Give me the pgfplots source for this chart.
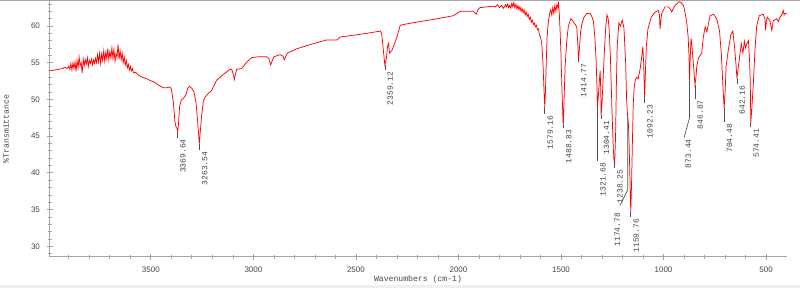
\documentclass[border=0pt]{standalone}
\usepackage{fontspec}
\setmainfont{Liberation Sans}
\setmonofont{Liberation Mono}
\usepackage{pgfplots}
\pgfplotsset{compat=1.18}
\definecolor{axgray}{RGB}{165,165,165}
\definecolor{txtgray}{RGB}{70,70,70}
\definecolor{leadgray}{RGB}{80,80,80}
\newcommand{\pklab}[4]{%
  \draw[leadgray, line width=0.5pt] (axis cs:#1,#2) -- (axis cs:#1,#3);
  \node[rotate=90, anchor=east, inner sep=0pt, font=\ttfamily\fontsize{6}{6}\selectfont, text=txtgray] at ([xshift=4pt,yshift=-1pt]axis cs:#1,#3) {#4};}
\begin{document}
\begin{tikzpicture}
\path[use as bounding box] (-37.5pt,-23.25pt) rectangle (562.5pt,192.75pt);
\fill[gray!12] (-37.5pt,-23.25pt) rectangle (562.5pt,-21pt);
\draw[axgray, line width=0.75pt] (-37.5pt,192.4pt) -- (562.5pt,192.4pt);
\begin{axis}[
  at={(0pt,0pt)}, anchor=south west,
  scale only axis, width=552.75pt, height=192pt,
  x dir=reverse,
  xmin=398, xmax=3992, ymin=28.55, ymax=63.4,
  axis x line*=bottom, axis y line*=left,
  axis line style={axgray, line width=0.75pt, -},
  every outer x axis line/.append style={-},
  every outer y axis line/.append style={-},
  xtick={500,1000,...,3500}, minor xtick={500,600,...,3900},
  ytick={30,35,...,60}, minor ytick={29,30,...,63},
  tick align=center,
  major tick length=4pt, minor tick length=2.5pt,
  every tick/.style={axgray, line width=0.6pt},
  /pgf/number format/1000 sep={},
  /pgf/number format/assume math mode=true,
  xticklabel style={font=\fontsize{6}{7}\selectfont, text=txtgray, yshift=-2pt},
  yticklabel style={font=\fontsize{6}{7}\selectfont, text=txtgray, xshift=-2pt},
  xlabel={Wavenumbers (cm-1)},
  ylabel={\%Transmittance},
  xlabel style={at={(axis description cs:0.4993,-0.086)}, anchor=center, font=\ttfamily\fontsize{6.1}{7}\selectfont, text=txtgray},
  ylabel style={at={(axis description cs:-0.0597,0.5)}, anchor=center, font=\ttfamily\fontsize{6.1}{7}\selectfont, text=txtgray},
  clip=false,
]
\addplot[red, line width=0.55pt] table {
w T
3990 53.9
3970 54.0
3950 54.1
3930 54.2
3920 54.4
3910 54.2
3900 54.5
3895 54.1
3890 54.9
3885 54.0
3880 55.0
3875 54.2
3870 55.1
3865 53.8
3860 55.3
3855 54.3
3850 55.8
3845 54.6
3840 55.0
3835 53.6
3830 55.5
3825 54.6
3820 55.4
3815 54.8
3810 55.7
3805 54.5
3800 55.3
3795 54.9
3790 55.5
3785 54.7
3780 55.4
3775 54.9
3770 55.6
3765 55.0
3760 56.1
3755 55.1
3750 56.3
3745 54.9
3740 56.2
3735 55.3
3730 56.6
3725 55.2
3720 56.4
3715 55.5
3710 56.9
3705 55.4
3700 56.5
3695 55.7
3690 57.0
3685 55.6
3680 56.8
3675 55.2
3670 56.2
3665 55.8
3660 57.5
3655 55.5
3650 56.6
3645 55.4
3640 56.3
3635 55.0
3630 55.8
3625 54.7
3620 55.3
3615 54.3
3610 54.8
3605 54.0
3600 54.5
3595 53.9
3590 54.2
3585 53.6
3575 53.7
3560 53.3
3540 53.0
3520 52.8
3505 52.6
3480 52.3
3460 51.9
3440 51.6
3420 51.6
3407 51.7
3400 51.4
3390 49.5
3383 47.0
3378 46.3
3372 46.0
3369.6 45.6
3366 46.5
3360 49.0
3352 49.9
3340 50.2
3330 50.6
3320 51.5
3313 51.8
3300 51.5
3290 51.0
3280 49.6
3272 47.0
3266 44.8
3263.5 44.0
3258 46.0
3252 47.9
3244 49.8
3236 50.3
3220 50.8
3204 51.2
3180 52.6
3147 53.4
3114 54.1
3106 54.1
3097 53.3
3093 52.7
3088 53.4
3082 54.1
3057 54.2
3032 55.1
3008 55.7
2976 55.8
2935 55.8
2925 55.6
2916 54.7
2908 55.3
2900 55.8
2870 56.1
2856 55.9
2849 55.4
2842 55.9
2834 56.3
2788 56.9
2707 57.6
2642 58.1
2593 58.1
2577 58.5
2496 58.8
2447 59.0
2382 59.3
2375 59.0
2370 57.8
2366 56.6
2359 54.7
2352 55.5
2346 57.2
2341 57.6
2336 56.3
2324 56.7
2300 58.5
2284 60.1
2250 60.3
2187 60.6
2100 61.0
2024 61.4
1991 62.0
1927 62.0
1914 61.6
1905 62.2
1895 62.5
1830 62.7
1820 62.6
1810 62.9
1800 62.5
1790 62.8
1780 62.4
1770 62.9
1765 62.6
1760 63.0
1755 62.5
1750 62.8
1745 62.4
1740 63.1
1735 62.6
1730 63.2
1725 62.5
1720 62.9
1715 62.3
1710 62.8
1705 62.2
1700 62.6
1695 62.0
1690 62.4
1685 61.8
1680 62.2
1675 61.5
1670 61.9
1665 61.3
1660 61.6
1655 60.9
1650 61.2
1645 60.5
1640 60.8
1635 60.2
1630 60.4
1625 59.9
1620 60.1
1615 59.5
1610 59.6
1605 58.8
1600 58.5
1594 57.6
1588 55.0
1584 52.0
1581 50.0
1579.2 49.0
1576 51.0
1572 55.0
1568 58.5
1562 60.5
1556 61.6
1550 62.2
1545 61.5
1540 62.5
1535 61.7
1530 62.8
1525 62.0
1520 62.9
1515 62.5
1513 63.3
1508 61.5
1504 59.0
1500 56.0
1495 51.0
1490 47.0
1488.8 46.5
1485 50.0
1480 54.5
1472 58.0
1464 60.0
1452 61.0
1445 60.8
1439 60.5
1430 60.2
1423 59.8
1418 57.5
1414.8 55.4
1410 57.0
1405 59.0
1399 60.2
1388 61.2
1374 61.7
1358 61.7
1350 61.3
1342 60.6
1335 58.5
1329 55.5
1325 52.0
1321.7 49.0
1318 50.5
1313 52.5
1309 53.9
1306 51.0
1304.4 47.9
1300 49.5
1295 52.6
1289 56.3
1282 59.8
1276 61.5
1270 61.0
1265 59.5
1259 55.6
1252 49.0
1246 44.0
1242 41.8
1238.3 41.3
1234 45.0
1230 52.0
1226 57.2
1218 60.4
1210 60.0
1205 60.5
1201 60.8
1193 59.7
1185 55.1
1180 50.0
1176 48.0
1174.8 47.6
1171 46.5
1167 43.0
1163 38.0
1159.8 34.7
1156 38.5
1152 44.0
1148 49.0
1144 51.5
1138 52.6
1131 53.0
1124 52.8
1115 54.0
1106 55.9
1101 57.2
1097 55.0
1094 52.0
1092.2 50.5
1088 54.0
1084 57.2
1076 59.6
1060 61.2
1041 61.9
1025 62.1
1020 61.5
1017 59.6
1013 60.8
1009 61.7
993 62.6
976 62.6
965 62.2
960 61.9
952 62.4
944 62.8
932 63.1
922 63.3
912 63.1
903 62.8
895 61.8
887 60.5
880 58.5
876 56.0
873.4 52.6
870 55.5
866 58.3
862 57.5
858 56.0
852 54.0
846.9 52.0
842 53.0
838 54.5
830 55.6
822 56.0
814 56.3
806 58.5
797 59.9
789 59.2
781 60.3
773 61.4
756 61.6
740 60.9
727 59.3
718 56.1
710 51.5
704.5 48.8
699 51.5
695 54.5
684 56.8
672 58.8
662 59.3
654 57.2
646 54.5
642.2 52.9
635 54.5
629 55.8
621 57.6
613 56.3
606 57.9
600 57.0
594 57.6
586 58.0
580 55.0
577 52.2
574.4 46.8
569 49.0
562 52.2
554 56.8
546 60.0
533 61.4
514 61.6
506 61.0
502 59.4
498 60.8
494 61.2
481 60.7
472 59.4
465 60.7
448 61.0
440 60.6
432 61.2
424 61.5
416 62.1
412 61.5
408 61.7
400 61.7
};
\pklab{3369.64}{45.56}{44.8}{3369.64}
\pklab{3263.54}{44.0}{43.1}{3263.54}
\pklab{2359.12}{54.69}{54.0}{2359.12}
\pklab{1579.16}{48.96}{48.0}{1579.16}
\pklab{1488.83}{46.5}{46.1}{1488.83}
\pklab{1414.77}{55.4}{55.1}{1414.77}
\pklab{1321.68}{48.96}{41.6}{1321.68}
\pklab{1304.41}{47.9}{47.3}{1304.41}
\pklab{1238.25}{41.3}{40.65}{1238.25}
\pklab{1159.76}{34.66}{33.95}{1159.76}
\pklab{1092.23}{50.5}{49.5}{1092.23}
\pklab{846.87}{52.0}{50.1}{846.87}
\pklab{704.48}{48.8}{46.9}{704.48}
\pklab{642.16}{52.9}{52.1}{642.16}
\pklab{574.41}{46.8}{46.2}{574.41}
% 1174.78 with bent leader
\draw[leadgray, line width=0.5pt] (axis cs:1174.78,47.6) -- (axis cs:1174.78,37.66) -- (axis cs:1212,35.6);
\node[rotate=90, anchor=east, inner sep=0pt, font=\ttfamily\fontsize{6}{6}\selectfont, text=txtgray] at (axis cs:1226,34.6) {1174.78};
% 873.44 with bent leader
\draw[leadgray, line width=0.5pt] (axis cs:873.44,52.6) -- (axis cs:873.44,47.47) -- (axis cs:900,44.8);
\node[rotate=90, anchor=east, inner sep=0pt, font=\ttfamily\fontsize{6}{6}\selectfont, text=txtgray] at (axis cs:880,44.6) {873.44};
\end{axis}
\end{tikzpicture}
\end{document}
